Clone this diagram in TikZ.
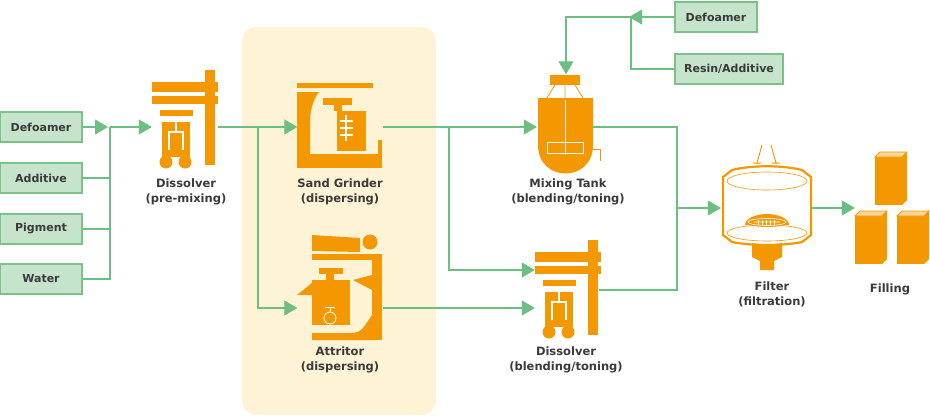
\documentclass[tikz,border=0pt]{standalone}
\usepackage{fontspec}
\setmainfont{DejaVu Sans}
\usetikzlibrary{arrows.meta}
\definecolor{org}{HTML}{F39800}
\definecolor{grn}{HTML}{6DBE82}
\definecolor{gbox}{HTML}{C6E4CB}
\definecolor{gbrd}{HTML}{7DC18A}
\definecolor{panel}{HTML}{FFF3D6}
\definecolor{txt}{HTML}{3A3A3A}
\begin{document}
\begin{tikzpicture}[x=1pt,y=-1pt,
  src/.style={draw=gbrd,fill=gbox,line width=1.2pt,minimum height=30pt,inner sep=0pt,font=\bfseries\fontsize{11}{12}\selectfont,text=txt},
  lbl/.style={font=\bfseries\fontsize{11.5}{15}\selectfont,text=txt,align=center},
  ln/.style={draw=grn,line width=1.1pt},
  arr/.style={ln,-{Triangle[length=13pt,width=15pt]}},
  eq/.style={minimum width=#1,inner sep=0pt}]
\useasboundingbox (0,0) rectangle (930,418);
\fill[panel,rounded corners=15pt] (242,27) rectangle (436,415);
% sources
\node[src,minimum width=82pt] (d1) at (41,127) {Defoamer};
\node[src,minimum width=82pt] (a1) at (41,178) {Additive};
\node[src,minimum width=82pt] (p1) at (41,229) {Pigment};
\node[src,minimum width=82pt] (w1) at (41,279) {Water};
\node[src,minimum width=82pt] (d2) at (716,17) {Defoamer};
\node[src,minimum width=108pt] (r2) at (729,69) {Resin/Additive};
% equipment placeholders
\node[eq=66pt,minimum height=95pt] (dis1) at (185,117) {};
\node[eq=85pt,minimum height=85pt] (sg) at (340,126) {};
\node[eq=85pt,minimum height=105pt] (att) at (340,288) {};
\node[eq=56pt,minimum height=103pt] (mt) at (565,126) {};
\node[eq=66pt,minimum height=95pt] (dis2) at (568,288) {};
\node[eq=90pt,minimum height=125pt] (flt) at (766,208) {};
\node[eq=74pt,minimum height=113pt] (fil) at (892,208) {};
\coordinate (j1) at (110,127);
\coordinate (j2) at (258,127);
\coordinate (j3) at (449,127);
\coordinate (j4) at (677,208);
\coordinate (j5) at (631,17);
\coordinate (j6) at (566,17);
% icons: dissolver
\tikzset{dissolver/.pic={
 \fill[org] (53,0) rectangle (63,95);
 \fill[org] (0,12) rectangle (66,22);
 \fill[org] (0,26) rectangle (66,34);
 \fill[org] (8,40) rectangle (41,46);
 \fill[org] (10,52) rectangle (38,87);
 \draw[white,line width=1.3pt] (17,80)--(17,62)--(31,62)--(31,80) (24,52)--(24,62);
 \fill[org] (14,92) circle (6.5) (33,92) circle (6.5);
}}
\pic at (152,70) {dissolver};
\pic at (535,240) {dissolver};
% sand grinder
\begin{scope}[shift={(297,83)}]
 \fill[org] (0,0) rectangle (76,5);
 \fill[org] (0,9) -- (22,9) .. controls (15,18) and (13,30) .. (13,40) -- (13,71) -- (0,71) -- cycle;
 \fill[org] (0,71) rectangle (85,85);
 \fill[org] (81,57) rectangle (85,85);
 \fill[org] (26,15) rectangle (55,22);
 \fill[org] (37,22) rectangle (45,28);
 \fill[org] (40,28) rectangle (69,68);
 \draw[white,line width=1.2pt] (49,32)--(49,58) (43,38)--(56,38) (43,45)--(56,45) (43,52)--(56,52);
\end{scope}
% attritor
\begin{scope}[shift={(297,235)}]
 \fill[org] (15,0) -- (63,3) -- (63,17) -- (15,16) -- cycle;
 \fill[org] (73,7) circle (7.5);
 \fill[org] (15,19) rectangle (85,25);
 \fill[org] (75,19) rectangle (85,105);
 \fill[org] (15,98) -- (55,98) .. controls (65,98) and (68,90) .. (75,80) -- (75,105) -- (15,105) -- cycle;
 \fill[org] (56,45) -- (75,40) -- (75,55) -- cycle;
 \fill[org] (22,33) rectangle (46,39);
 \fill[org] (29,39) rectangle (37,45);
 \fill[org] (15,45) rectangle (53,90);
 \fill[org] (0,60) -- (15,48) -- (15,60) -- cycle;
 \draw[white,line width=1pt] (28,72)--(38,72) (33,72)--(33,78);
 \fill[org] (33,83) circle (6);
 \draw[white,line width=0.8pt] (33,83) circle (6);
\end{scope}
% mixing tank
\begin{scope}[shift={(537,75)}]
 \fill[org] (13,0) rectangle (43,10);
 \draw[org,line width=0.8pt] (18,10)--(10,23) (28,10)--(28,23) (38,10)--(46,23);
 \fill[org] (1,23)--(56,23)--(56,70) .. controls (56,108) and (1,108) .. (1,70) -- cycle;
 \draw[white,line width=1pt] (28,25)--(28,80) (10,67) rectangle (46,78);
 \draw[org,line width=0.8pt] (56,74)--(63,74)--(63,86);
\end{scope}
% filter
\begin{scope}[shift={(722,145)}]
 \draw[org,line width=1pt] (40,0)--(35,18) (31,18)--(39,18) (49,0)--(54,18) (50,18)--(58,18);
 \draw[org,line width=2.2pt] (1,32) -- (10,25) .. controls (30,20) and (60,20) .. (80,25) -- (89,32) -- (89,90) -- (80,97) .. controls (60,101) and (30,101) .. (10,97) -- (1,90) -- cycle;
 \draw[org,line width=0.6pt] (45,36) ellipse (40 and 9) (45,88) ellipse (40 and 8);
 \fill[org] (23,80) arc (180:360:22 and 11) -- cycle;
 \fill[org] (45,77) ellipse (21 and 5);
 \draw[white,line width=0.6pt] (45,77) ellipse (19 and 3.5) (32,77)--(58,77);
 \foreach \i in {36,40,44,48,52} \draw[white,line width=0.5pt] (\i,74.5)--(\i,79.5);
 \fill[org] (30,98) .. controls (40,100) and (50,100) .. (60,98) -- (60,112) -- (52,116) -- (52,125) -- (38,125) -- (38,116) -- (30,112) -- cycle;
\end{scope}
% filling cans
\tikzset{can/.pic={
 \fill[org] (0,5) rectangle (27,53);
 \fill[org] (27,5) -- (32,0) -- (32,48) -- (27,53) -- cycle;
 \fill[org!40!white] (0,5) -- (5,0) -- (32,0) -- (27,5) -- cycle;
 \draw[org,line width=0.8pt] (0,5) -- (5,0) -- (32,0) -- (27,5) -- cycle;
}}
\pic at (875,152) {can};
\pic at (855,211) {can};
\pic at (897,211) {can};
% labels
\node[lbl] at (186,192) {Dissolver\\(pre-mixing)};
\node[lbl] at (340,192) {Sand Grinder\\(dispersing)};
\node[lbl] at (340,360) {Attritor\\(dispersing)};
\node[lbl] at (568,192) {Mixing Tank\\(blending/toning)};
\node[lbl] at (566,360) {Dissolver\\(blending/toning)};
\node[lbl] at (772,294) {Filter\\(filtration)};
\node[lbl] at (890,289) {Filling};
% connectors
\draw[arr] (d1.east) -- ([xshift=-2pt]j1);
\draw[ln] (a1.east) -| (j1);
\draw[ln] (p1.east) -| (j1);
\draw[ln] (w1.east) -| (j1);
\draw[arr] (j1) -- (dis1.west |- j1);
\draw[arr] (dis1.east |- j2) -- (sg.west |- j2);
\draw[arr] (j2) |- ([yshift=-20pt]att.west);
\draw[arr] ([yshift=-20pt]att.east) -- ([yshift=-20pt]dis2.west);
\draw[arr] (sg.east |- j3) -- (mt.west |- j3);
\draw[arr] (j3) |- ([yshift=18pt]dis2.west);
\draw[arr] (d2.west) -- ([xshift=-2pt]j5);
\draw[arr] (j5) -| ([xshift=1pt]mt.north);
\draw[ln] (r2.west) -| (j5);
\draw[ln] (mt.east |- j3) -| (j4);
\draw[ln] ([xshift=-2pt,yshift=-2pt]dis2.east) -| (j4);
\draw[arr] (j4) -- (flt.west);
\draw[arr] (flt.east) -- (fil.west);
\end{tikzpicture}
\end{document}
